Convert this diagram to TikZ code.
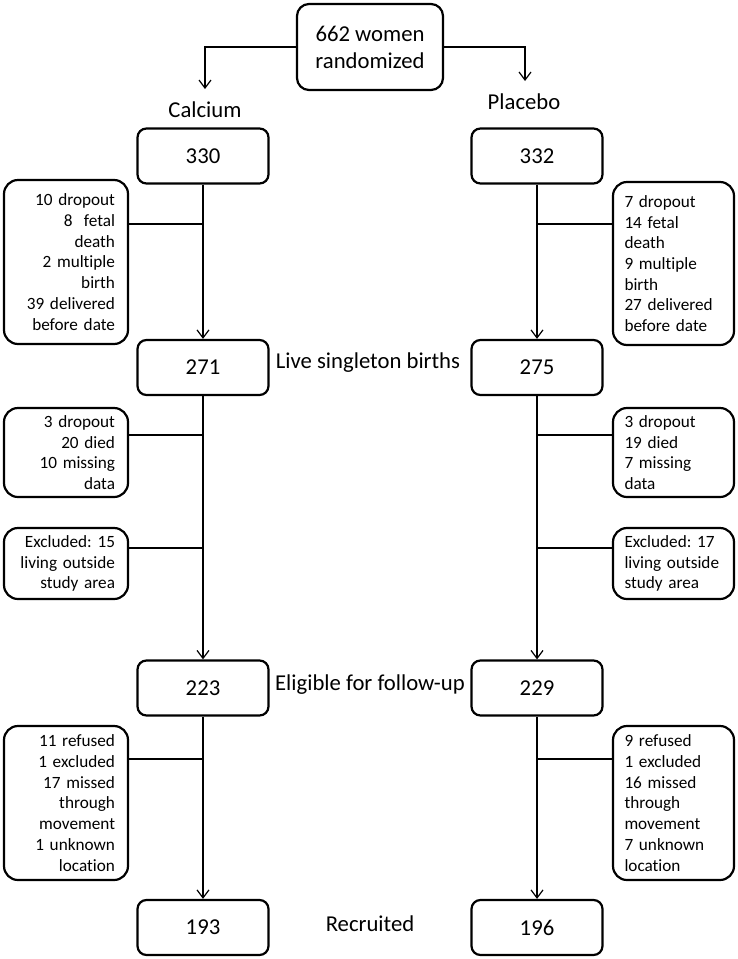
\documentclass[tikz,border=0pt]{standalone}
\usepackage{fontspec}
\setmainfont{Carlito}[Ligatures=NoCommon]
\frenchspacing
\usetikzlibrary{arrows.meta}
\begin{document}
\begin{tikzpicture}[x=1pt, y=-1pt,
        box/.style={draw, line width=2.2pt, rounded corners=9pt, minimum width=131pt, minimum height=55pt, font=\fontsize{22.7}{27}\selectfont},
        sidel/.style={draw, line width=2.2pt, rounded corners=14pt, text width=98pt, inner xsep=13pt, align=right, font=\fontsize{17.2}{20.7}\selectfont},
        sider/.style={sidel, inner xsep=11.5pt, align=left},
        lab/.style={font=\fontsize{22.7}{27}\selectfont},
        arr/.style={line width=1.2pt, -{Straight Barb[length=8pt, width=12pt]}},
        con/.style={line width=1.2pt}]
                \useasboundingbox (0,0) rectangle (738,959);

                \node[box, minimum width=146pt, minimum height=86pt, rounded corners=12pt, align=center] (top) at (370,47) {662 women\\randomized};
                \node[lab] (calc) at (205,110) {Calcium};
                \node[lab] (plac) at (524,102) {Placebo};
                \coordinate (ctip) at (205,89);
                \coordinate (ptip) at (525,81);
                \draw[arr] (top.west) -| (ctip);
                \draw[arr] (top.east) -| (ptip);

                \node[box] (c0) at (203,156) {330};
                \node[box] (p0) at (537,156) {332};
                \node[box] (c1) at (203,367.5) {271};
                \node[box] (p1) at (537,367.5) {275};
                \node[box] (c2) at (203,688) {223};
                \node[box] (p2) at (537,688) {229};
                \node[box] (c3) at (203,927.5) {193};
                \node[box] (p3) at (537,927.5) {196};

                \node[lab] (live) at (368,363) {Live singleton births};
                \node[lab] (elig) at (370,685) {Eligible for follow-up};
                \node[lab] (recr) at (370,924) {Recruited};

                \draw[arr] (c0) -- (c1);
                \draw[arr] (c1) -- (c2);
                \draw[arr] (c2) -- (c3);
                \draw[arr] (p0) -- (p1);
                \draw[arr] (p1) -- (p2);
                \draw[arr] (p2) -- (p3);

                \node[sidel, minimum height=164pt] (cl1) at (66,262) {10 dropout\\8\ \ fetal\\death\\2 multiple\\birth\\39 delivered\\before date};
                \node[sider, minimum height=163pt] (pl1) at (673.5,263.5) {7 dropout\\14 fetal\\death\\9 multiple\\birth\\27 delivered\\before date};
                \node[sidel, minimum height=89pt] (cl2) at (66,452.5) {3 dropout\\20 died\\10 missing\\data};
                \node[sider, minimum height=89pt] (pl2) at (673.5,452.5) {3 dropout\\19 died\\7 missing\\data};
                \node[sidel, minimum height=71pt] (cl3) at (66,563.5) {Excluded: 15\\living outside\\study area};
                \node[sider, minimum height=71pt] (pl3) at (673.5,563.5) {Excluded: 17\\living outside\\study area};
                \node[sidel, minimum height=154pt] (cl4) at (66,803) {11 refused\\1 excluded\\17 missed\\through\\movement\\1 unknown\\location};
                \node[sider, minimum height=154pt] (pl4) at (673.5,803) {9 refused\\1 excluded\\16 missed\\through\\movement\\7 unknown\\location};

                \coordinate (cj1) at (203,224);
                \coordinate (pj1) at (537,224);
                \coordinate (cj2) at (203,435);
                \coordinate (pj2) at (537,435);
                \coordinate (cj3) at (203,548);
                \coordinate (pj3) at (537,548);
                \coordinate (cj4) at (203,759);
                \coordinate (pj4) at (537,759);
                \draw[con] (cj1) -- (cj1 -| cl1.east);
                \draw[con] (pj1) -- (pj1 -| pl1.west);
                \draw[con] (cj2) -- (cj2 -| cl2.east);
                \draw[con] (pj2) -- (pj2 -| pl2.west);
                \draw[con] (cj3) -- (cj3 -| cl3.east);
                \draw[con] (pj3) -- (pj3 -| pl3.west);
                \draw[con] (cj4) -- (cj4 -| cl4.east);
                \draw[con] (pj4) -- (pj4 -| pl4.west);
            \end{tikzpicture}
\end{document}
